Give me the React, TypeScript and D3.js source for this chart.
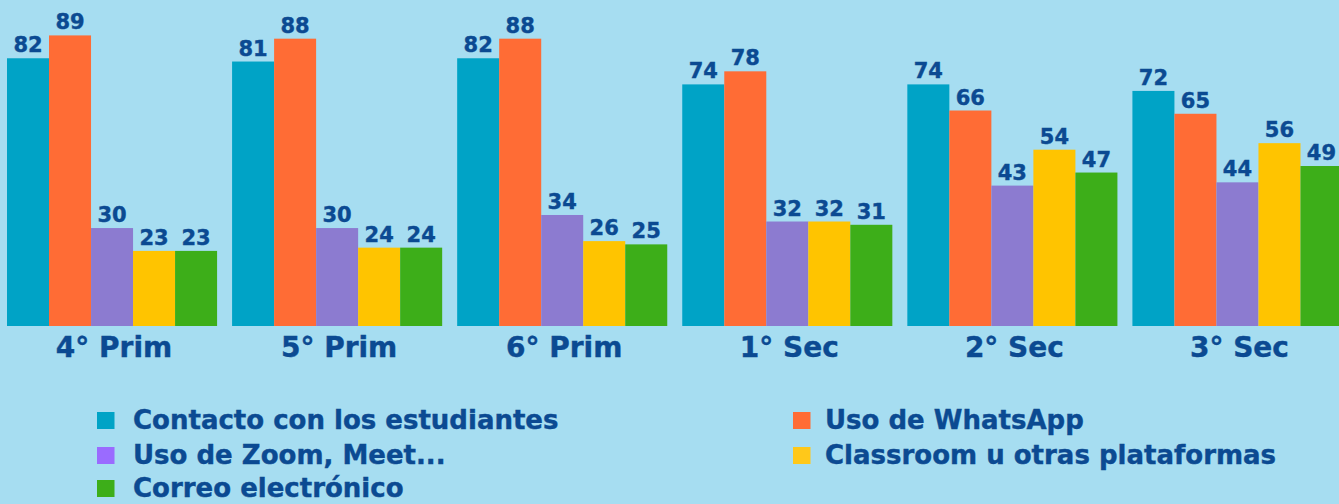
import React from "react";
import * as d3 from "d3";

const categories = ["4° Prim", "5° Prim", "6° Prim", "1° Sec", "2° Sec", "3° Sec"];
const seriesNames = [
  "Contacto con los estudiantes",
  "Uso de WhatsApp",
  "Uso de Zoom, Meet...",
  "Classroom u otras plataformas",
  "Correo electrónico",
];
const contacto = [82, 81, 82, 74, 74, 72];
const whatsapp = [89, 88, 88, 78, 66, 65];
const zoom = [30, 30, 34, 32, 43, 44];
const classroom = [23, 24, 26, 32, 54, 56];
const correo = [23, 24, 25, 31, 47, 49];
const seriesValues = [contacto, whatsapp, zoom, classroom, correo];
const barColors = ["#00a3c6", "#ff6c35", "#8c7bd0", "#ffc400", "#3dae19"];
const legendColors = ["#00a3c6", "#ff6c35", "#9a6bff", "#ffc81a", "#3dae19"];

const W = 1339;
const H = 504;
const TEXT = "#0b4a92";
const FONT = "'DejaVu Sans', sans-serif";

export default function App() {
  const x0 = d3
    .scaleBand<string>()
    .domain(categories)
    .range([7, 1342.5])
    .paddingInner(15 / 225.1)
    .paddingOuter(0);
  const x1 = d3
    .scaleBand<number>()
    .domain(d3.range(seriesNames.length))
    .range([0, x0.bandwidth()])
    .padding(0);
  const y = d3.scaleLinear().domain([0, 100]).range([326, -0.5]);

  const legendPos = [
    { x: 97, y: 429, tx: 133 },
    { x: 793, y: 429, tx: 825 },
    { x: 97, y: 464, tx: 133 },
    { x: 793, y: 464, tx: 825 },
    { x: 97, y: 497, tx: 133 },
  ];

  return (
    <svg
      width={W}
      height={H}
      style={{ position: "absolute", left: 0, top: 0, display: "block" }}
    >
      <rect x={0} y={0} width={W} height={H} fill="#a6ddf1" />
      {categories.map((c, ci) => (
        <g key={c} transform={`translate(${x0(c)},0)`}>
          {seriesValues.map((vals, si) => (
            <rect
              key={si}
              x={x1(si)}
              y={y(vals[ci])}
              width={x1.bandwidth()}
              height={y(0) - y(vals[ci])}
              fill={barColors[si]}
            />
          ))}
          {seriesValues.map((vals, si) => (
            <text
              key={"l" + si}
              x={(x1(si) as number) + x1.bandwidth() / 2}
              y={y(vals[ci]) - 6}
              textAnchor="middle"
              fontFamily={FONT}
              fontWeight={700}
              fontSize={21}
              fill={TEXT}
              stroke={TEXT}
              strokeWidth={0.4}
            >
              {vals[ci]}
            </text>
          ))}
          <text
            x={x0.bandwidth() / 2 + 2}
            y={357}
            textAnchor="middle"
            fontFamily={FONT}
            fontWeight={700}
            fontSize={28}
            fill={TEXT}
            stroke={TEXT}
            strokeWidth={0.4}
          >
            {c}
          </text>
        </g>
      ))}
      {seriesNames.map((s, i) => (
        <g key={s}>
          <rect
            x={legendPos[i].x}
            y={legendPos[i].y - 17}
            width={17.5}
            height={17}
            fill={legendColors[i]}
          />
          <text
            x={legendPos[i].tx}
            y={legendPos[i].y}
            fontFamily={FONT}
            fontWeight={700}
            fontSize={26}
            fill={TEXT}
            stroke={TEXT}
            strokeWidth={0.4}
          >
            {s}
          </text>
        </g>
      ))}
    </svg>
  );
}
